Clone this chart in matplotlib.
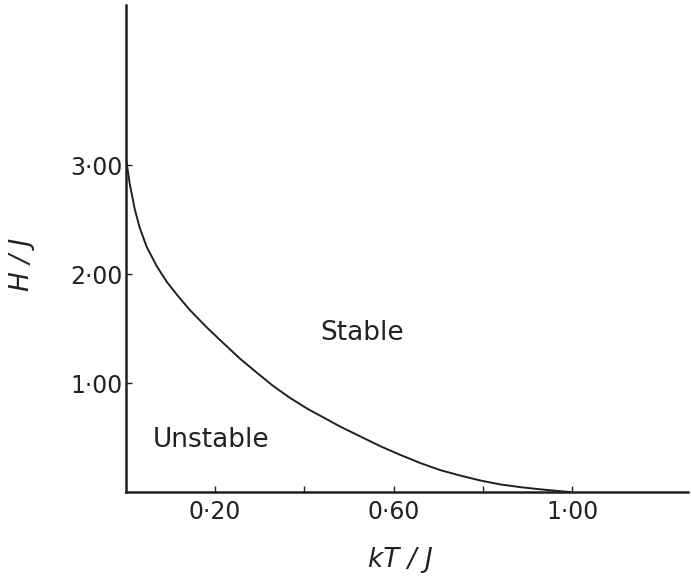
import numpy as np
import matplotlib.pyplot as plt

# stability boundary H/J vs kT/J
kt_vals = [0.0, 0.002, 0.009, 0.020, 0.031, 0.047, 0.070, 0.092, 0.117,
           0.144, 0.182, 0.218, 0.256, 0.294, 0.330, 0.369, 0.407, 0.443,
           0.481, 0.526, 0.571, 0.616, 0.661, 0.706, 0.751, 0.796, 0.840,
           0.885, 0.930, 0.975, 0.998]
h_vals = [3.10, 3.02, 2.83, 2.60, 2.43, 2.25, 2.07, 1.93, 1.80,
          1.67, 1.51, 1.37, 1.225, 1.095, 0.975, 0.862, 0.765, 0.685,
          0.60, 0.51, 0.42, 0.34, 0.265, 0.20, 0.15, 0.105, 0.07,
          0.045, 0.025, 0.008, 0.0]

x_ticks = [0.2, 0.4, 0.6, 0.8, 1.0]
x_labels = ["0·20", "", "0·60", "", "1·00"]
y_ticks = [1.0, 2.0, 3.0]
y_labels = ["1·00", "2·00", "3·00"]

ink = '#1b231f'

fig = plt.figure(figsize=(6.91, 5.81), dpi=100)
ax = fig.add_axes([0.182, 0.153, 0.814, 0.838])

ax.plot(kt_vals, h_vals, color=ink, lw=1.4, solid_joinstyle='round')

ax.set_xlim(0, 1.26)
ax.set_ylim(0, 4.47)

for s in ['top', 'right']:
    ax.spines[s].set_visible(False)
for s in ['left', 'bottom']:
    ax.spines[s].set_color(ink)
    ax.spines[s].set_linewidth(1.8)

ax.set_xticks(x_ticks)
ax.set_xticklabels(x_labels)
ax.set_yticks(y_ticks)
ax.set_yticklabels(y_labels)
ax.tick_params(direction='in', length=4, width=1, colors=ink,
               labelsize=17, labelcolor='#222222')
ax.tick_params(axis='y', pad=2)
ax.tick_params(axis='x', pad=6)

ax.text(0.53, 1.46, "Stable", fontsize=19, color='#222222', ha='center', va='center')
ax.text(0.19, 0.48, "Unstable", fontsize=19, color='#222222', ha='center', va='center')

fig.text(0.579, 0.036, "kT / J", fontsize=19, style='italic', color='#222222',
         ha='center', va='center')
fig.text(0.032, 0.545, "H / J", fontsize=19, style='italic', color='#222222',
         ha='center', va='center', rotation=90)

plt.savefig('out.png', dpi=100)
